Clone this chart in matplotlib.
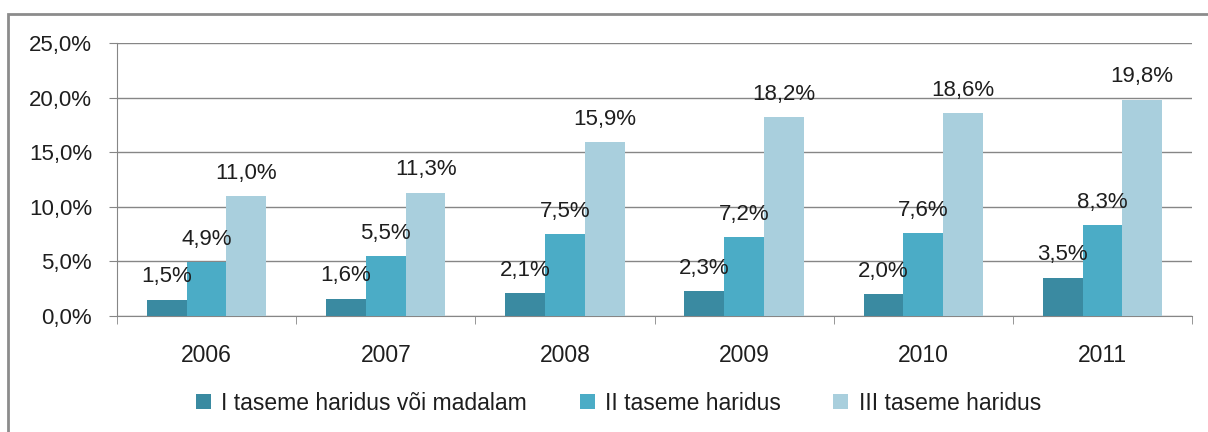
import numpy as np
import matplotlib
matplotlib.use("Agg")
import matplotlib.pyplot as plt
from matplotlib.patches import Rectangle

years = ["2006", "2007", "2008", "2009", "2010", "2011"]
level_1 = [1.5, 1.6, 2.1, 2.3, 2.0, 3.5]
level_2 = [4.9, 5.5, 7.5, 7.2, 7.6, 8.3]
level_3 = [11.0, 11.3, 15.9, 18.2, 18.6, 19.8]
series_names = ["I taseme haridus või madalam", "II taseme haridus", "III taseme haridus"]
colors = ["#3a8aa1", "#4bacc6", "#a9cfdd"]

plt.rcParams["font.family"] = ["Liberation Sans", "DejaVu Sans"]
grey = "#868686"
txt = "#1e1e1e"

fig = plt.figure(figsize=(12.08, 4.32), dpi=100)
ax = fig.add_axes([117 / 1208, 1 - 316 / 432, (1192 - 117) / 1208, (316 - 43) / 432])

# outer chart border
fig.patches.append(Rectangle((8 / 1208, -0.02), 1.0, 0.02 + 1 - 14 / 432,
                             transform=fig.transFigure, fill=False,
                             edgecolor="#8c8c8c", lw=2))

x = np.arange(len(years))
w = 1 / 4.5
for i, (vals, name, c) in enumerate(zip([level_1, level_2, level_3], series_names, colors)):
    pos = x + (i - 1) * w
    ax.bar(pos, vals, width=w, color=c, label=name, zorder=3)
    for px, v in zip(pos, vals):
        ax.annotate(f"{v:.1f}%".replace(".", ","), (px, v), xytext=(0, 12.5),
                    textcoords="offset points", ha="center", va="baseline",
                    fontsize=16, color=txt, zorder=4)

ax.set_xlim(-0.5, len(years) - 0.5)
ax.set_ylim(0, 25)
ax.set_yticks(np.arange(0, 26, 5))
ax.set_yticklabels([f"{t:.1f}%".replace(".", ",") for t in np.arange(0, 26, 5)])
ax.set_xticks(x)
ax.set_xticklabels(years)
ax.set_xticks(np.arange(-0.5, len(years)), minor=True)
ax.tick_params(axis="x", which="major", length=0, pad=20, labelsize=16.5, colors=txt)
ax.tick_params(axis="x", which="minor", length=6, color=grey)
ax.tick_params(axis="y", length=6, color=grey, pad=12, labelsize=16, labelcolor=txt)
ax.grid(axis="y", color=grey, lw=1, zorder=0)
for s in ["top", "right"]:
    ax.spines[s].set_visible(False)
for s in ["left", "bottom"]:
    ax.spines[s].set_color(grey)

fig.legend(loc="center", bbox_to_anchor=(0.512, 1 - 403 / 432), ncol=3, frameon=False,
           fontsize=16.5, handlelength=0.65, handleheight=0.65, handletextpad=0.45,
           columnspacing=2.3, labelcolor=txt)

fig.savefig("out.png", dpi=100)
